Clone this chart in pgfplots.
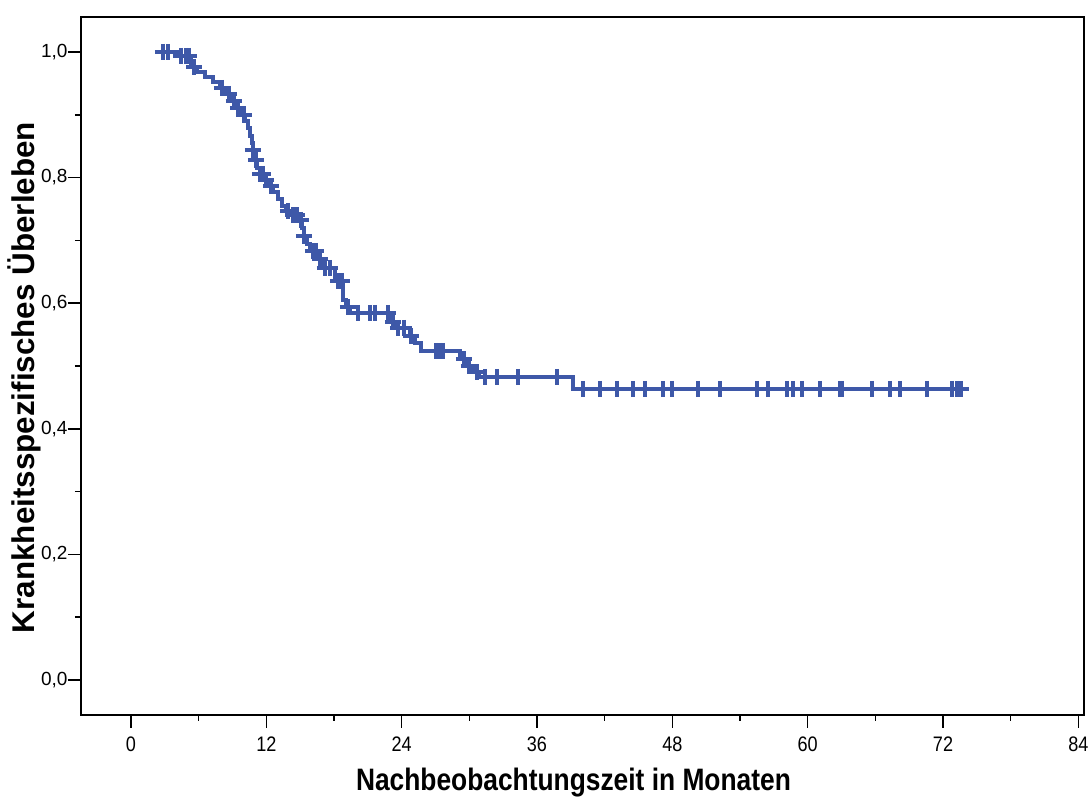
\documentclass[border=0pt]{standalone}
\usepackage{fontspec}
\setmainfont{Liberation Sans}
\newfontfamily\narrowfont[FakeStretch=0.86]{Liberation Sans}
\newfontfamily\xlabfont[FakeStretch=0.85]{Liberation Sans}
\usepackage{pgfplots}
\pgfplotsset{compat=1.18}
\definecolor{kmblue}{RGB}{62,88,168}
\begin{document}
\begin{tikzpicture}
\path[use as bounding box] (-40.5pt,-43pt) rectangle (505pt,357.5pt);
\begin{axis}[
  at={(0,0)}, anchor=south west,
  scale only axis, width=501.5pt, height=349pt,
  xmin=-4.43, xmax=84.5, ymin=-0.0557, ymax=1.0557,
  axis line style={line width=0.8pt},
  xtick={0,12,24,36,48,60,72,84},
  minor xtick={6,18,30,42,54,66,78},
  ytick={0,0.2,0.4,0.6,0.8,1.0},
  minor ytick={0.1,0.3,0.5,0.7,0.9},
  yticklabels={{0,0},{0,2},{0,4},{0,6},{0,8},{1,0}},
  tick align=outside,
  xtick pos=bottom, ytick pos=left,
  tick style={line width=0.8pt, black},
  major tick length=6.5pt, minor tick length=3pt,
  /pgf/number format/assume math mode=true,
  xticklabel style={font=\narrowfont\fontsize{10.5}{12}\selectfont, yshift=-1pt},
  yticklabel style={font=\fontsize{9.5}{11}\selectfont, xshift=3.3pt},
  xlabel={Nachbeobachtungszeit in Monaten},
  ylabel={Krankheitsspezifisches Überleben},
  xlabel style={font=\xlabfont\bfseries\fontsize{15.5}{18}\selectfont,
    at={(axis description cs:0.491,-0.0974)}, anchor=center},
  ylabel style={font=\bfseries\fontsize{15.7}{18}\selectfont,
    at={(axis description cs:-0.0565,0.4835)}, anchor=center},
]
\addplot[const plot, kmblue, line width=2.3pt] coordinates {
(2.571,1.0000) (4.167,0.9936) (5.319,0.9761) (5.851,0.9682) (6.560,0.9602)
(7.270,0.9522) (7.890,0.9427) (8.422,0.9331) (8.954,0.9220) (9.397,0.9108)
(9.752,0.8997) (10.106,0.8901) (10.372,0.8790) (10.550,0.8662) (10.727,0.8551)
(10.816,0.8439) (10.993,0.8280) (11.170,0.8153) (11.436,0.8057) (11.791,0.7962)
(12.145,0.7866) (12.589,0.7771) (13.032,0.7659) (13.387,0.7548) (13.741,0.7468)
(14.273,0.7404) (14.805,0.7325) (15.160,0.7197) (15.337,0.7070) (15.603,0.6943)
(15.869,0.6831) (16.489,0.6704) (16.933,0.6561) (18.085,0.6354) (18.794,0.6051)
(19.060,0.5939) (19.415,0.5844) (23.050,0.5701) (23.582,0.5605) (24.734,0.5478)
(25.177,0.5366) (25.709,0.5239) (29.167,0.5111) (29.787,0.5000) (30.319,0.4904)
(30.851,0.4825) (39.184,0.4634) (74.113,0.4634)
};
\addplot[only marks, mark=+, mark size=4pt, kmblue, mark options={line width=2pt}] coordinates {
(2.84,1.0) (3.28,1.0) (4.43,0.9936) (4.88,0.9936) (5.14,0.9936) (5.60,0.9761)
(8.07,0.9427) (8.69,0.9331) (9.13,0.9220) (9.49,0.9108) (10.02,0.8997)
(10.82,0.8439) (11.08,0.8280) (11.44,0.8057) (11.70,0.8057) (11.97,0.7962)
(12.41,0.7866) (13.92,0.7468) (14.36,0.7404) (14.75,0.7404) (15.07,0.7325)
(15.34,0.7070) (16.13,0.6831) (16.40,0.6831) (16.76,0.6704) (17.20,0.6561)
(17.64,0.6561) (18.35,0.6354) (18.71,0.6354) (19.24,0.5939) (20.12,0.5844)
(21.19,0.5844) (21.63,0.5844) (22.78,0.5844) (23.23,0.5701) (23.67,0.5605)
(24.20,0.5605) (24.82,0.5478) (27.04,0.5239) (27.39,0.5239) (27.66,0.5239)
(29.52,0.5111) (29.96,0.5000) (30.67,0.4904) (31.38,0.4825) (32.45,0.4825)
(34.31,0.4825) (37.77,0.4825) (40.07,0.4634) (41.58,0.4634) (43.09,0.4634)
(44.50,0.4634) (45.57,0.4634) (47.16,0.4634) (47.96,0.4634) (50.27,0.4634)
(52.22,0.4634) (55.50,0.4634) (56.47,0.4634) (58.16,0.4634) (58.69,0.4634)
(59.49,0.4634) (61.08,0.4634) (62.85,0.4634) (63.03,0.4634) (65.69,0.4634)
(67.29,0.4634) (68.17,0.4634) (70.57,0.4634) (72.78,0.4634) (73.23,0.4634)
(73.58,0.4634)
};
\end{axis}
\end{tikzpicture}
\end{document}
